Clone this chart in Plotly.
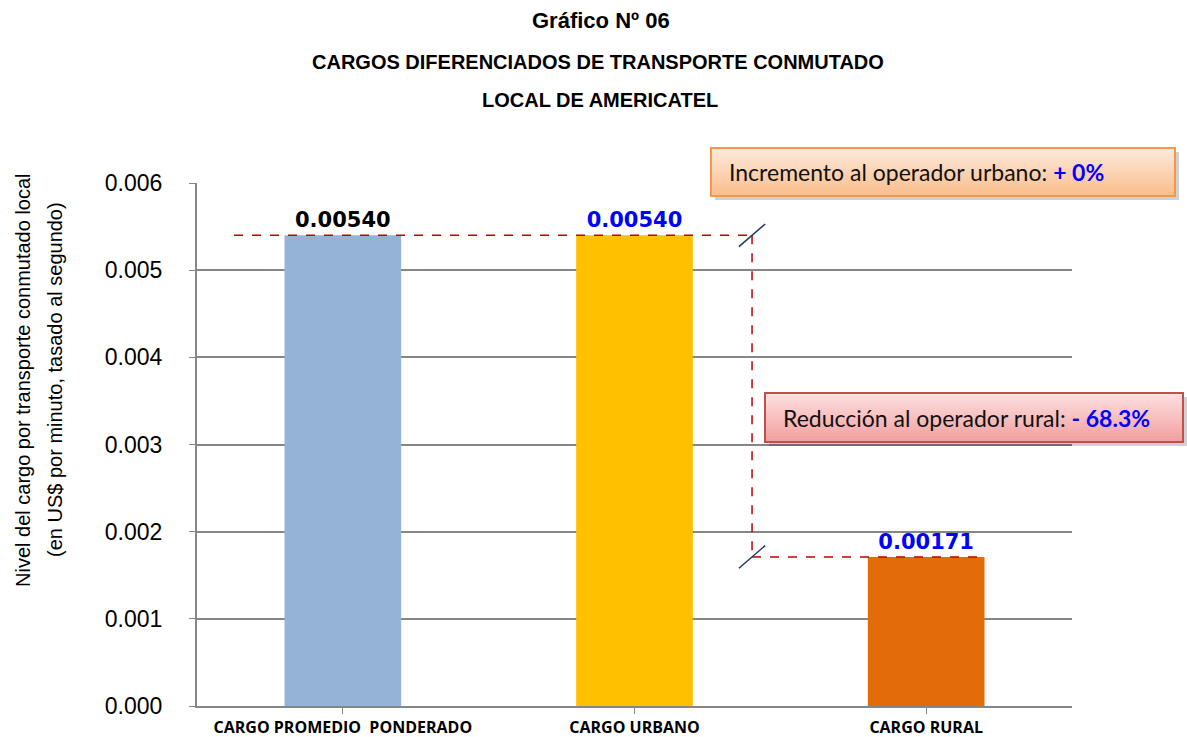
import plotly.graph_objects as go

# --- data ---
categorias = ["CARGO PROMEDIO  PONDERADO", "CARGO URBANO", "CARGO RURAL"]
cargos = [0.00540, 0.00540, 0.00171]
etiquetas = ["0.00540", "0.00540", "0.00171"]
colores = ["#95B3D7", "#FFC000", "#E36C0A"]
color_texto = ["#000000", "#0000FF", "#0000FF"]
y_ticks = [0.000, 0.001, 0.002, 0.003, 0.004, 0.005, 0.006]

W, H = 1187, 737
L, R, T, B = 197, 1072, 183, 706


def px(x):
    return (x - L) / (R - L)


def py(y):
    return (B - y) / (B - T)


fig = go.Figure(go.Bar(
    x=list(range(len(categorias))), y=cargos,
    marker=dict(color=colores, line=dict(width=0)),
    text=etiquetas, textposition="outside", cliponaxis=False,
    textfont=dict(family="DejaVu Sans", size=21, color=color_texto,
                  weight="bold"),
    width=0.4,
))

shapes = []
# dashed comparison lines (data coords)
dash = dict(color="#C00000", width=1.5, dash="dash")
x_left, x_mid, x_right = -0.373, 1.403, 2.2
shapes.append(dict(type="line", xref="x", yref="y", x0=x_left, x1=x_mid,
                   y0=cargos[1], y1=cargos[1], line=dash))
shapes.append(dict(type="line", xref="x", yref="y", x0=x_mid, x1=x_mid,
                   y0=cargos[1], y1=cargos[2], line=dash))
shapes.append(dict(type="line", xref="x", yref="y", x0=x_mid, x1=x_right,
                   y0=cargos[2], y1=cargos[2], line=dash))
# small slanted marks
for v in (cargos[1], cargos[2]):
    shapes.append(dict(type="line", xref="x", yref="y",
                       x0=x_mid - 0.045, x1=x_mid + 0.045,
                       y0=v - 0.00013, y1=v + 0.00013,
                       line=dict(color="#1F3864", width=1.5)))


def caja(x0, y0, x1, y1, top, bottom, borde):
    # shadow
    shapes.append(dict(type="rect", xref="paper", yref="paper",
                       x0=px(x0 + 4), x1=px(x1 + 4), y0=py(y1 + 4), y1=py(y0 + 4),
                       fillcolor="rgba(0,0,0,0.18)", line=dict(width=0), layer="above"))
    n = 16
    h = (y1 - y0) / n
    for i in range(n):
        t = i / (n - 1)
        c = tuple(int(top[k] + (bottom[k] - top[k]) * t) for k in range(3))
        shapes.append(dict(type="rect", xref="paper", yref="paper",
                           x0=px(x0), x1=px(x1), y0=py(y0 + (i + 1) * h + 0.5),
                           y1=py(y0 + i * h), fillcolor="rgb(%d,%d,%d)" % c,
                           line=dict(width=0), layer="above"))
    shapes.append(dict(type="rect", xref="paper", yref="paper",
                       x0=px(x0), x1=px(x1), y0=py(y1), y1=py(y0),
                       line=dict(color=borde, width=2), layer="above"))


caja(711, 148, 1175, 196, (253, 233, 217), (250, 191, 143), "#F79646")
caja(765, 393, 1183, 442, (255, 224, 224), (242, 160, 160), "#C0504D")


def nota(text, x, y, size, **kw):
    d = dict(text=text, x=px(x), y=py(y), xref="paper", yref="paper",
             showarrow=False, xanchor="center", yanchor="middle",
             font=dict(size=size, color=kw.pop("color", "#000"),
                       family=kw.pop("family", "Liberation Sans")))
    d.update(kw)
    return d


annotations = [
    nota("<b>Gráfico Nº 06</b>", 601, 20, 22),
    nota("<b>CARGOS DIFERENCIADOS DE TRANSPORTE CONMUTADO</b>", 598, 62, 20),
    nota("<b>LOCAL DE AMERICATEL</b>", 600, 100, 20),
    nota("Incremento al operador urbano: <b><span style='color:#0000FF'>+ 0%</span></b>",
         727, 172, 23, xanchor="left", family="Lato", color="#111"),
    nota("Reducción al operador rural: <b><span style='color:#0000FF'>- 68.3%</span></b>",
         781, 418, 23, xanchor="left", family="Lato", color="#111"),
    nota("Nivel del cargo por transporte conmutado local", 23, 380, 20,
         textangle=-90),
    nota("(en US$ por minuto, tasado al segundo)", 55, 380, 20, textangle=-90),
]

fig.update_layout(
    width=W, height=H,
    margin=dict(l=L, r=W - R, t=T, b=H - B),
    paper_bgcolor="white", plot_bgcolor="white",
    font=dict(family="Liberation Sans", color="#000"),
    showlegend=False,
    shapes=shapes,
    annotations=annotations,
    xaxis=dict(
        range=[-0.5, 2.5], tickmode="array", automargin=False,
        tickvals=list(range(len(categorias))), ticktext=categorias,
        tickson="boundaries", ticks="outside", ticklen=6, tickcolor="#868686",
        showline=True, linecolor="#868686", linewidth=2, showgrid=False,
        tickfont=dict(family="Open Sans", size=16, weight="bold"),
    ),
    yaxis=dict(
        range=[0, 0.006], tickvals=y_ticks, automargin=False,
        ticktext=["%.3f" % v for v in y_ticks],
        ticks="outside", ticklen=6, tickcolor="#868686",
        ticklabelstandoff=22,
        showline=True, linecolor="#868686", linewidth=2,
        showgrid=True, gridcolor="#868686", gridwidth=1.5,
        tickfont=dict(size=23), zeroline=False,
    ),
)

fig.write_html("out.html", config={"displayModeBar": False},
               post_script="document.body.style.margin='0';")
